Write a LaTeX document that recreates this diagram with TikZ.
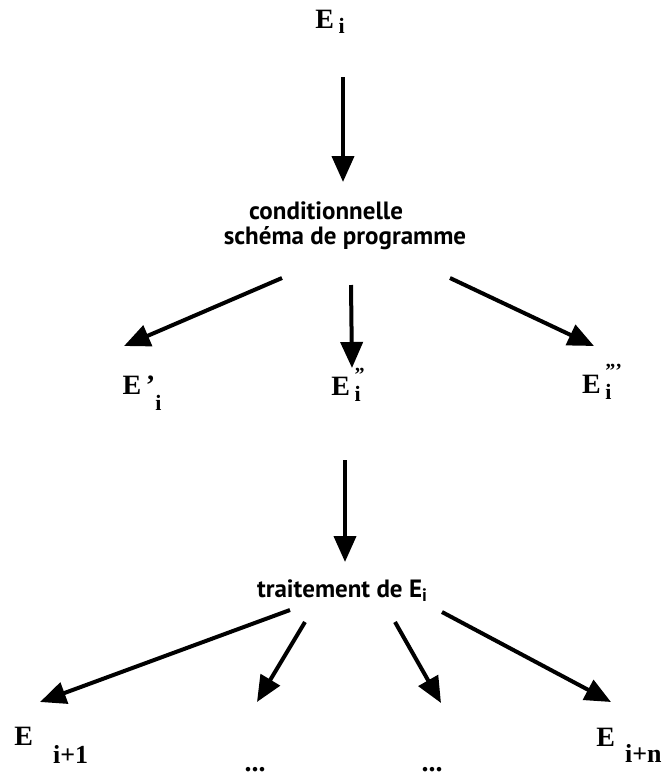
\documentclass[tikz,border=0pt]{standalone}
\usepackage{fontspec}
\setmainfont{Liberation Serif}
\newfontfamily\txtfont{PT Sans}
\usetikzlibrary{arrows.meta, positioning}

% indice abaisse sous le E
\newcommand{\ind}[2]{\raisebox{#1}{\fontsize{11}{12}\selectfont #2}}
% indice i surmonte d'accents
\newcommand{\indacc}[2]{\ind{-3pt}{\rlap{i}}\raisebox{#1}{\fontsize{10}{12}\selectfont #2}}

\begin{document}
\begin{tikzpicture}[x=0.5pt, y=-0.5pt, >={Triangle[length=13pt, width=11pt]},
    lettre/.style={font=\bfseries\fontsize{14}{16}\selectfont, inner sep=0pt},
    texte/.style={font=\txtfont\bfseries\fontsize{12.5}{14}\selectfont, inner sep=0pt},
    fleche/.style={->, line width=2pt}]
    \useasboundingbox (0,0) rectangle (669,783);

    % Etat de depart
    \node[lettre] (ei) at (330,22) {E\,\ind{-2.5pt}{i}};
    \node[texte] (cond) at (326,211) {conditionnelle};
    \node[texte] (prog) at (345,238) {schéma de programme};

    % Trois etats obtenus
    \node[lettre] (ep) at (142,393) {E\,'\ind{-8pt}{i}};
    \node[lettre] (es) at (348,385) {E\,\indacc{7pt}{"}};
    \node[lettre] (et) at (602,382) {E\,\indacc{8pt}{'''}};

    \node[texte] (trait) at (342,591) {traitement de E\ind{-2pt}{\fontsize{9}{10}\selectfont i}};

    % Etats suivants
    \node[lettre, anchor=west] (e1) at (14,745) {E\hspace{10pt}\raisebox{-9pt}{\fontsize{13}{14}\selectfont i+1}};
    \node[lettre] (d1) at (255,770) {...};
    \node[lettre] (d2) at (432,770) {...};
    \node[lettre, anchor=east] (en) at (662,745) {E\hspace{5pt}\raisebox{-8pt}{\fontsize{13}{14}\selectfont i+n}};

    % Fleches
    \coordinate (a1) at (343,77);   \coordinate (b1) at (343,182);
    \coordinate (a2) at (282,278);  \coordinate (b2) at (124,346);
    \coordinate (a3) at (351,285);  \coordinate (b3) at (352,368);
    \coordinate (a4) at (450,278);  \coordinate (b4) at (594,346);
    \coordinate (a5) at (345,460);  \coordinate (b5) at (345,562);
    \coordinate (a6) at (290,610);  \coordinate (b6) at (40,702);
    \coordinate (a7) at (305,622);  \coordinate (b7) at (257,702);
    \coordinate (a8) at (395,622);  \coordinate (b8) at (441,703);
    \coordinate (a9) at (442,612);  \coordinate (b9) at (611,702);

    \foreach \i in {1,...,9}
        \draw[fleche] (a\i) -- (b\i);
\end{tikzpicture}
\end{document}
